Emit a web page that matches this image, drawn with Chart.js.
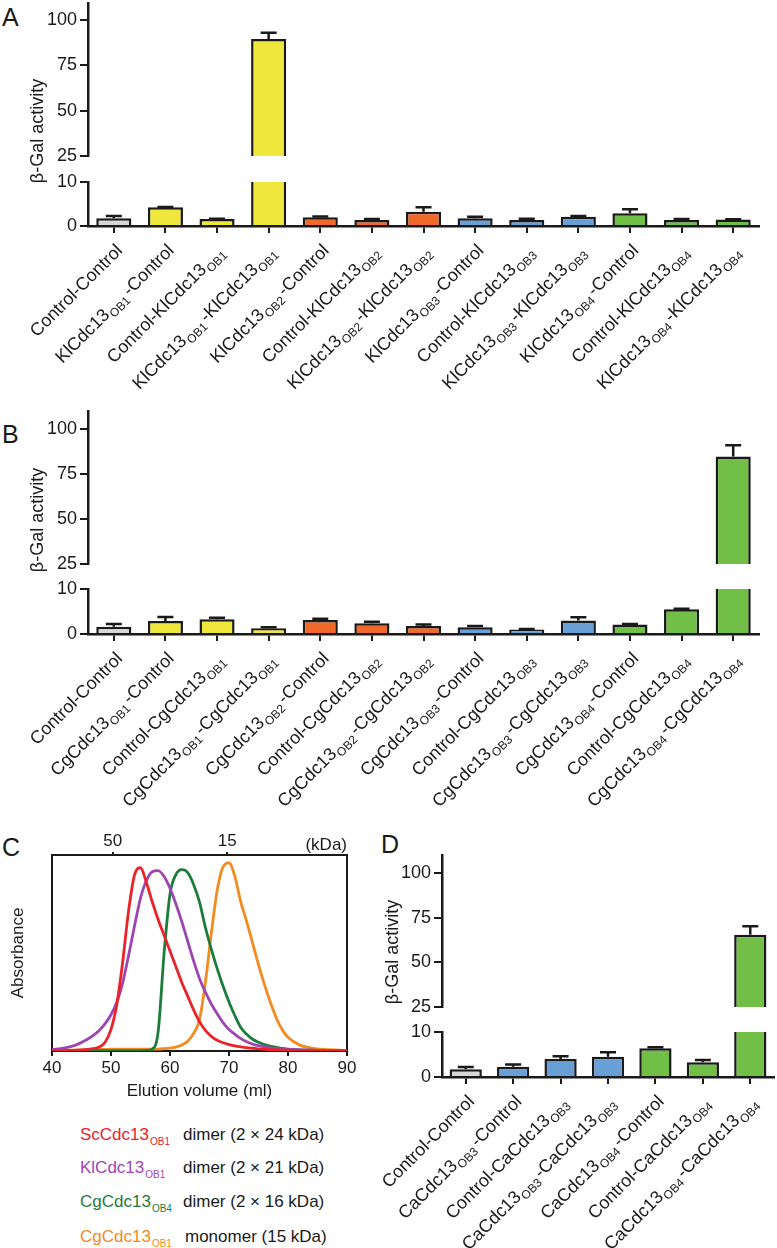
<!DOCTYPE html>
<html>
<head>
<meta charset="utf-8">
<script src="https://cdn.jsdelivr.net/npm/chart.js@4.4.1/dist/chart.umd.min.js"></script>
<style>
  html, body { margin: 0; padding: 0; background: #fff; }
  body { width: 777px; height: 1248px; position: relative; overflow: hidden;
         font-family: "Liberation Sans", Arial, Helvetica, sans-serif; color: #1a1a1a; }
  canvas { position: absolute; }
  .letter { position: absolute; font-size: 25px; line-height: 25px; }
  .legend-row { position: absolute; font-size: 17px; line-height: 20px; white-space: nowrap; }
  .legend-row sub { font-size: 10px; vertical-align: -5px; line-height: 0; margin-left: 1px; }
</style>
</head>
<body>
<div class="letter" style="left:2px;top:5px">A</div>
<div class="letter" style="left:2px;top:422px">B</div>
<div class="letter" style="left:2px;top:835px">C</div>
<div class="letter" style="left:381px;top:832px">D</div>
<script>
// ---- data ----
// A: KlCdc13 two-hybrid
const labelsA = ['Control-Control', 'KlCdc13_{OB1}-Control', 'Control-KlCdc13_{OB1}', 'KlCdc13_{OB1}-KlCdc13_{OB1}',
  'KlCdc13_{OB2}-Control', 'Control-KlCdc13_{OB2}', 'KlCdc13_{OB2}-KlCdc13_{OB2}',
  'KlCdc13_{OB3}-Control', 'Control-KlCdc13_{OB3}', 'KlCdc13_{OB3}-KlCdc13_{OB3}',
  'KlCdc13_{OB4}-Control', 'Control-KlCdc13_{OB4}', 'KlCdc13_{OB4}-KlCdc13_{OB4}'];
const groupsA = ['ctrl', 'ob1', 'ob1', 'ob1', 'ob2', 'ob2', 'ob2', 'ob3', 'ob3', 'ob3', 'ob4', 'ob4', 'ob4'];
const valuesA = [1.75, 4.25, 1.6, 89.6, 2.0, 1.35, 3.25, 1.75, 1.35, 2.1, 2.9, 1.35, 1.5];
const errorsA = [0.55, 0.05, 0.05, 3.4, 0.15, 0.25, 1.0, 0.35, 0.3, 0.15, 0.9, 0.25, 0.05];

// B: CgCdc13 two-hybrid
const labelsB = ['Control-Control', 'CgCdc13_{OB1}-Control', 'Control-CgCdc13_{OB1}', 'CgCdc13_{OB1}-CgCdc13_{OB1}',
  'CgCdc13_{OB2}-Control', 'Control-CgCdc13_{OB2}', 'CgCdc13_{OB2}-CgCdc13_{OB2}',
  'CgCdc13_{OB3}-Control', 'Control-CgCdc13_{OB3}', 'CgCdc13_{OB3}-CgCdc13_{OB3}',
  'CgCdc13_{OB4}-Control', 'Control-CgCdc13_{OB4}', 'CgCdc13_{OB4}-CgCdc13_{OB4}'];
const groupsB = groupsA;
const valuesB = [1.6, 2.9, 3.3, 1.3, 3.1, 2.4, 1.8, 1.5, 1.0, 3.0, 2.1, 5.5, 84.7];
const errorsB = [0.6, 0.9, 0.3, 0.2, 0.3, 0.3, 0.3, 0.3, 0.1, 0.7, 0.1, 0.1, 6.3];

// D: CaCdc13 two-hybrid
const labelsD = ['Control-Control', 'CaCdc13_{OB3}-Control', 'Control-CaCdc13_{OB3}', 'CaCdc13_{OB3}-CaCdc13_{OB3}',
  'CaCdc13_{OB4}-Control', 'Control-CaCdc13_{OB4}', 'CaCdc13_{OB4}-CaCdc13_{OB4}'];
const groupsD = ['ctrl', 'ob3', 'ob3', 'ob3', 'ob4', 'ob4', 'ob4'];
const valuesD = [1.7, 2.3, 4.0, 4.5, 6.4, 3.3, 65.4];
const errorsD = [0.5, 0.5, 0.6, 1.0, 0.2, 0.5, 4.8];

const lowerTicks = [0, 5, 10];
const upperTicks = [25, 50, 75, 100];

// C: gel filtration profiles (normalised absorbance)
const elutionVolume = [40, 42, 44, 46, 47, 48, 49, 50, 51, 52, 53, 54, 55, 56, 57, 58, 59, 60, 61, 62, 63, 64, 65,
  66, 67, 68, 69, 70, 71, 72, 73, 74, 75, 76, 77, 78, 79, 80, 82, 84, 86, 88, 90];
const absScOB1 = [0, 0, 0.003, 0.008, 0.012, 0.02, 0.045, 0.11, 0.24, 0.46, 0.72, 0.9, 0.935, 0.86, 0.76, 0.67, 0.59,
  0.51, 0.43, 0.35, 0.28, 0.21, 0.15, 0.105, 0.075, 0.055, 0.042, 0.033, 0.026, 0.021, 0.017, 0.014, 0.011, 0.009,
  0.007, 0.006, 0.005, 0.004, 0.003, 0.002, 0.001, 0, 0];
const absKlOB1 = [0.008, 0.015, 0.03, 0.06, 0.08, 0.105, 0.14, 0.185, 0.25, 0.35, 0.49, 0.64, 0.78, 0.87, 0.915, 0.92,
  0.89, 0.83, 0.75, 0.66, 0.56, 0.46, 0.37, 0.3, 0.24, 0.19, 0.145, 0.11, 0.085, 0.063, 0.047, 0.035, 0.027, 0.021,
  0.016, 0.013, 0.01, 0.008, 0.006, 0.004, 0.003, 0.002, 0.001];
const absCgOB4 = [0.002, 0.002, 0.002, 0.002, 0.002, 0.002, 0.002, 0.002, 0.002, 0.002, 0.002, 0.002, 0.002, 0.003,
  0.01, 0.1, 0.5, 0.8, 0.9, 0.925, 0.91, 0.85, 0.76, 0.63, 0.52, 0.42, 0.33, 0.25, 0.18, 0.12, 0.085, 0.06, 0.045,
  0.033, 0.025, 0.018, 0.013, 0.01, 0.006, 0.004, 0.002, 0.001, 0];
const absCgOB1 = [0.003, 0.004, 0.005, 0.006, 0.007, 0.008, 0.008, 0.009, 0.009, 0.009, 0.01, 0.01, 0.01, 0.01, 0.01,
  0.01, 0.012, 0.015, 0.02, 0.03, 0.05, 0.09, 0.16, 0.35, 0.6, 0.82, 0.94, 0.96, 0.89, 0.76, 0.66, 0.55, 0.44, 0.34,
  0.25, 0.17, 0.11, 0.07, 0.03, 0.015, 0.008, 0.005, 0.003];
const mwMarkerVolume = [50.3, 69.7];
const mwMarkerLabel = ['50', '15'];

const legendNames = ['ScCdc13', 'KlCdc13', 'CgCdc13', 'CgCdc13'];
const legendDomains = ['OB1', 'OB1', 'OB4', 'OB1'];
const legendStates = ['dimer (2 × 24 kDa)', 'dimer (2 × 21 kDa)', 'dimer (2 × 16 kDa)', 'monomer (15 kDa)'];

// ---- styles ----
const FONT = '"Liberation Sans", Arial, Helvetica, sans-serif';
const INK = '#1a1a1a';
const palette = { ctrl: '#d7d7d7', ob1: '#efe73b', ob2: '#f0692a', ob3: '#699fd7', ob4: '#72bf47' };
const curveColors = ['#ec2229', '#9d45b3', '#1d7c3b', '#f28b22'];

// ---- plugins ----
const errorBars = {
  id: 'errorBars',
  afterDatasetsDraw(chart, args, opts) {
    const ys = chart.scales.y;
    const ds = chart.data.datasets[0];
    const ctx = chart.ctx;
    ctx.save();
    ctx.strokeStyle = INK;
    ctx.lineWidth = 2.5;
    chart.getDatasetMeta(0).data.forEach((bar, i) => {
      const v = ds.data[i], e = ds.errors[i];
      if (!e || v < ys.min || v > ys.max) return;
      const yTop = ys.getPixelForValue(Math.min(v + e, ys.max));
      ctx.beginPath();
      ctx.moveTo(bar.x, bar.y);
      ctx.lineTo(bar.x, yTop);
      if (v + e <= ys.max) {
        ctx.moveTo(bar.x - opts.cap / 2, yTop);
        ctx.lineTo(bar.x + opts.cap / 2, yTop);
      }
      ctx.stroke();
    });
    ctx.restore();
  }
};

function parseRich(s) {
  const parts = [];
  const re = /_\{([^}]*)\}/g;
  let last = 0, m;
  while ((m = re.exec(s))) {
    if (m.index > last) parts.push({ t: s.slice(last, m.index), sub: false });
    parts.push({ t: m[1], sub: true });
    last = re.lastIndex;
  }
  if (last < s.length) parts.push({ t: s.slice(last), sub: false });
  return parts;
}

// rotated category labels with subscripts
const richTicks = {
  id: 'richTicks',
  afterDraw(chart, args, opts) {
    if (!opts.labels) return;
    const xs = chart.scales.x;
    const ctx = chart.ctx;
    const mainFont = opts.size + 'px ' + FONT;
    const subFont = opts.subSize + 'px ' + FONT;
    ctx.save();
    ctx.fillStyle = INK;
    ctx.textBaseline = 'middle';
    ctx.textAlign = 'left';
    opts.labels.forEach((lab, i) => {
      const parts = parseRich(lab);
      let total = 0;
      parts.forEach(p => {
        ctx.font = p.sub ? subFont : mainFont;
        p.w = ctx.measureText(p.t).width + (p.sub ? opts.subGap : 0);
        total += p.w;
      });
      ctx.save();
      ctx.translate(xs.getPixelForValue(i) + opts.dx, xs.top + opts.dy);
      ctx.rotate(-opts.angle * Math.PI / 180);
      let x = -total;
      parts.forEach(p => {
        ctx.font = p.sub ? subFont : mainFont;
        ctx.fillText(p.t, x + (p.sub ? 1 : 0), p.sub ? opts.subDrop : 0);
        x += p.w;
      });
      ctx.restore();
    });
    ctx.restore();
  }
};

// y title that spans the broken axis
const sideTitle = {
  id: 'sideTitle',
  afterDraw(chart, args, opts) {
    if (!opts.text) return;
    const ctx = chart.ctx;
    const a = chart.chartArea;
    ctx.save();
    ctx.translate(a.left + opts.dx, a.bottom + opts.dy);
    ctx.rotate(-Math.PI / 2);
    ctx.font = opts.size + 'px ' + FONT;
    ctx.fillStyle = INK;
    ctx.textAlign = 'center';
    ctx.textBaseline = 'middle';
    ctx.fillText(opts.text, 0, 0);
    ctx.restore();
  }
};

function addCanvas(left, top, width, height) {
  const c = document.createElement('canvas');
  c.width = width;
  c.height = height;
  c.style.left = left + 'px';
  c.style.top = top + 'px';
  c.style.width = width + 'px';
  c.style.height = height + 'px';
  document.body.appendChild(c);
  return c;
}

const PAD_TOP = 16;
const TITLE_ROOM = 80;
const LABEL_ROOM = 195;

function segmentChart(p, part) {
  const seg = p[part];
  const isLower = part === 'lower';
  const h = PAD_TOP + (seg.bottom - seg.top) + (isLower ? 8 + LABEL_ROOM : TITLE_ROOM);
  const canvas = addCanvas(p.left, seg.top - PAD_TOP, p.width, h);

  return new Chart(canvas, {
    type: 'bar',
    data: {
      labels: p.labels,
      datasets: [{
        data: p.values,
        errors: p.errors,
        backgroundColor: p.groups.map(g => palette[g]),
        borderColor: INK,
        borderWidth: 2.5,
        borderSkipped: 'start',
        categoryPercentage: 1,
        barPercentage: 0.68,
        clip: 0
      }]
    },
    options: {
      responsive: false,
      animation: false,
      devicePixelRatio: 1,
      layout: { padding: { left: 0, right: p.padRight, top: PAD_TOP, bottom: isLower ? LABEL_ROOM : TITLE_ROOM } },
      scales: {
        x: {
          display: isLower,
          grid: { display: true, offset: false, drawOnChartArea: false, drawTicks: true, tickLength: 7, color: INK, lineWidth: 2 },
          border: { display: true, color: INK, width: 2.5 },
          ticks: { display: false },
          afterFit: s => { s.height = 8; }
        },
        y: {
          min: seg.min,
          max: seg.max,
          afterBuildTicks: s => { s.ticks = seg.ticks.map(v => ({ value: v })); },
          afterFit: s => { s.width = p.axisX; },
          grid: { display: true, drawOnChartArea: false, drawTicks: true, tickLength: 8, color: INK, lineWidth: 2 },
          border: { display: true, color: INK, width: 2.5 },
          ticks: { font: { size: 18, family: FONT }, color: INK, padding: 3 }
        }
      },
      plugins: {
        legend: { display: false },
        tooltip: { enabled: false },
        errorBars: { cap: 16 },
        richTicks: isLower ? { labels: p.labels, size: 18, subSize: 12, subDrop: 6, subGap: 3, angle: 45, dx: 6, dy: 22 } : false,
        sideTitle: isLower ? false : { text: 'β-Gal activity', size: 18, dx: p.titleDX, dy: p.titleDY }
      }
    },
    plugins: [errorBars, richTicks, sideTitle]
  });
}

function brokenBarPanel(p) {
  segmentChart(p, 'lower');
  segmentChart(p, 'upper');
}

brokenBarPanel({
  labels: labelsA, values: valuesA, errors: errorsA, groups: groupsA,
  left: 0, width: 777, axisX: 88, padRight: 18, titleDX: -50, titleDY: -25,
  upper: { top: 3, bottom: 164, min: 25, max: 109.4, ticks: upperTicks },
  lower: { top: 182, bottom: 226, min: 0, max: 10, ticks: lowerTicks }
});

brokenBarPanel({
  labels: labelsB, values: valuesB, errors: errorsB, groups: groupsB,
  left: 0, width: 777, axisX: 88, padRight: 18, titleDX: -50, titleDY: -44,
  upper: { top: 411, bottom: 572, min: 25, max: 110, ticks: upperTicks },
  lower: { top: 589, bottom: 634, min: 0, max: 10, ticks: lowerTicks }
});

brokenBarPanel({
  labels: labelsD, values: valuesD, errors: errorsD, groups: groupsD,
  left: 340, width: 437, axisX: 102, padRight: 3, titleDX: -49, titleDY: -55,
  upper: { top: 855, bottom: 1015, min: 25, max: 110, ticks: upperTicks },
  lower: { top: 1032, bottom: 1077, min: 0, max: 10, ticks: lowerTicks }
});

// ---- panel C ----
const curveSeries = [absScOB1, absKlOB1, absCgOB4, absCgOB1];
new Chart(addCanvas(0, 831, 370, 275), {
  type: 'line',
  data: {
    labels: elutionVolume,
    datasets: curveSeries.map((vals, i) => ({
      data: vals,
      borderColor: curveColors[i],
      borderWidth: 2.8,
      pointRadius: 0,
      fill: false,
      cubicInterpolationMode: 'monotone'
    }))
  },
  options: {
    responsive: false,
    animation: false,
    devicePixelRatio: 1,
    layout: { padding: { left: 0, right: 23, top: 0, bottom: 0 } },
    scales: {
      x: {
        type: 'linear', position: 'bottom', min: 40, max: 90,
        ticks: { stepSize: 10, font: { size: 17, family: FONT }, color: INK, padding: 2 },
        grid: { display: true, drawOnChartArea: false, drawTicks: true, tickLength: 5, color: INK, lineWidth: 2 },
        border: { display: true, color: INK, width: 2 },
        title: { display: true, text: 'Elution volume (ml)', font: { size: 17, family: FONT }, color: INK, padding: { top: 0, bottom: 4 } },
        afterFit: s => { s.height = 55; }
      },
      xTop: {
        type: 'linear', position: 'top', min: 40, max: 90,
        afterBuildTicks: s => { s.ticks = mwMarkerVolume.map(v => ({ value: v })); },
        ticks: { callback: (v, i) => mwMarkerLabel[i], font: { size: 17, family: FONT }, color: INK, padding: 0 },
        grid: { display: true, drawOnChartArea: false, drawTicks: true, tickLength: 3, color: INK, lineWidth: 2 },
        border: { display: true, color: INK, width: 2 },
        title: { display: true, text: '(kDa)', align: 'end', font: { size: 17, family: FONT }, color: INK, padding: { top: 4, bottom: 0 } },
        afterFit: s => { s.height = 24; }
      },
      y: {
        position: 'left', min: 0, max: 1,
        ticks: { display: false },
        grid: { display: false },
        border: { display: true, color: INK, width: 2 },
        title: { display: true, text: 'Absorbance', font: { size: 17, family: FONT }, color: INK, padding: { top: 8, bottom: 0 } },
        afterFit: s => { s.width = 52; }
      },
      yRight: {
        position: 'right', min: 0, max: 1,
        ticks: { display: false },
        grid: { display: false },
        border: { display: true, color: INK, width: 2 },
        afterFit: s => { s.width = 0; }
      }
    },
    plugins: { legend: { display: false }, tooltip: { enabled: false } }
  }
});

// legend under C
const legendRowY = [1135, 1168, 1202, 1237];
legendNames.forEach((name, i) => {
  const nameEl = document.createElement('div');
  nameEl.className = 'legend-row';
  nameEl.style.left = '80px';
  nameEl.style.top = (legendRowY[i] - 10) + 'px';
  nameEl.style.color = curveColors[i];
  nameEl.innerHTML = name + '<sub>' + legendDomains[i] + '</sub>';
  document.body.appendChild(nameEl);

  const stateEl = document.createElement('div');
  stateEl.className = 'legend-row';
  stateEl.style.left = (i === 3 ? 185 : 183) + 'px';
  stateEl.style.top = (legendRowY[i] - 10) + 'px';
  stateEl.textContent = legendStates[i];
  document.body.appendChild(stateEl);
});
</script>
</body>
</html>
